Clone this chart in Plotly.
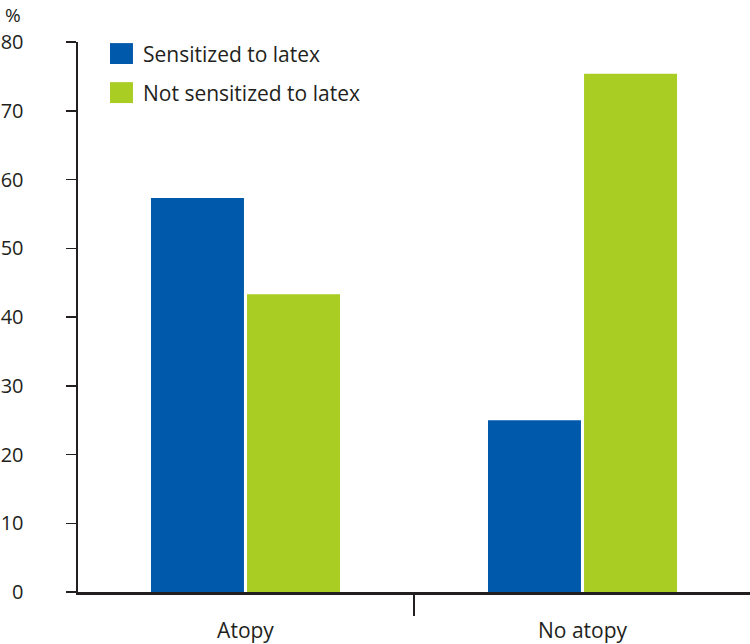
import plotly.graph_objects as go

categories = ["Atopy", "No atopy"]
series_names = ["Sensitized to latex", "Not sensitized to latex"]
sensitized = [57.3, 25.0]
not_sensitized = [43.3, 75.4]
y_ticks = [0, 10, 20, 30, 40, 50, 60, 70, 80]

colors = ["#0059AA", "#AACD23"]
ink = "#231F20"
font_family = "Open Sans"

fig = go.Figure()
for name, vals, col in zip(series_names, [sensitized, not_sensitized], colors):
    fig.add_trace(go.Bar(x=categories, y=vals, name=name, marker_color=col,
                         marker_line_width=0, showlegend=False, hoverinfo="skip"))

# custom legend (large square swatches)
leg_x0, leg_x1, text_x = 0.0476, 0.0818, 0.094
leg_rows = [(0.998, 0.960, 0.979), (0.927, 0.889, 0.908)]
for (y1, y0, yt), name, col in zip(leg_rows, series_names, colors):
    fig.add_shape(type="rect", xref="paper", yref="paper", x0=leg_x0, x1=leg_x1,
                  y0=y0, y1=y1, fillcolor=col, line_width=0)
    fig.add_annotation(xref="paper", yref="paper", x=text_x, y=yt, text=name,
                       showarrow=False, xanchor="left", yanchor="middle",
                       font=dict(family=font_family, size=21, color=ink))

fig.add_annotation(xref="paper", yref="paper", x=-0.097, y=1.049, text="%",
                   showarrow=False, xanchor="center", yanchor="middle",
                   font=dict(family=font_family, size=19, color=ink))

fig.update_layout(
    width=750, height=644,
    margin=dict(l=78, r=0, t=42, b=52),
    paper_bgcolor="white", plot_bgcolor="white",
    barmode="group", bargap=0.43, bargroupgap=0.032,
    font=dict(family=font_family, size=20, color=ink),
    hovermode=False,
)
fig.update_xaxes(
    type="category", range=[-0.497, 1.497], tickson="boundaries",
    ticks="outside", ticklen=21, tickwidth=1.5, tickcolor=ink,
    showline=True, linewidth=2.5, linecolor=ink, showgrid=False,
    ticklabelstandoff=18,
    tickfont=dict(family=font_family, size=21, color=ink),
)
fig.update_yaxes(
    range=[0, 80], tickvals=y_ticks, ticks="outside", ticklen=10, tickwidth=1.5,
    tickcolor=ink, showline=True, linewidth=2.5, linecolor=ink, showgrid=False,
    zeroline=False, ticklabelstandoff=38,
    tickfont=dict(family=font_family, size=20, color=ink),
)

# remove the default 8px page margin so the figure sits at the window's corner
fig.write_html("out.html", config={"displayModeBar": False, "staticPlot": True},
               post_script="document.body.style.margin='0px';document.body.style.overflow='hidden';")
